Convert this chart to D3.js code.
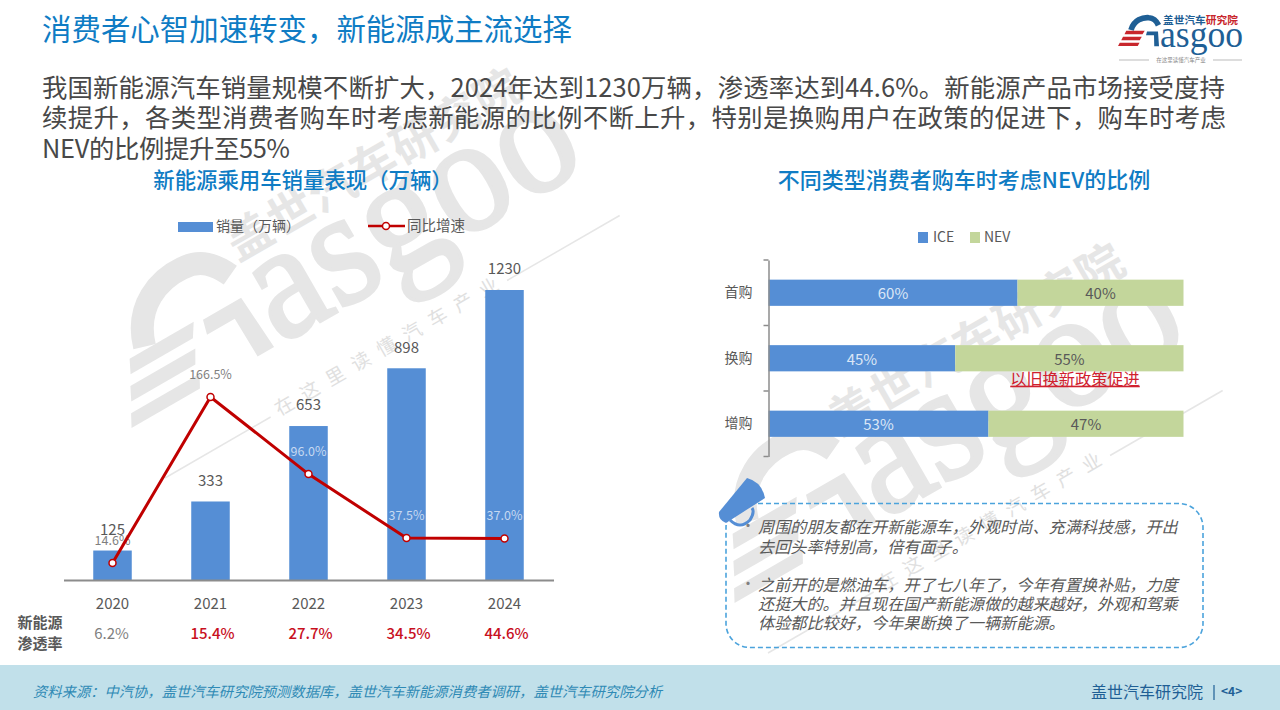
<!DOCTYPE html>
<html>
<head>
<meta charset="utf-8">
<script src="https://d3js.org/d3.v7.min.js"></script>
<style>
  html, body { margin: 0; padding: 0; background: #fff; }
  svg { display: block; }
  text { font-family: "Noto Sans CJK SC", "Noto Sans", sans-serif; }
</style>
</head>
<body>
<div id="chart"></div>
<script>
// left chart
const years = ["2020", "2021", "2022", "2023", "2024"];
const sales = [125, 333, 653, 898, 1230];
const growth = [14.6, 166.5, 96.0, 37.5, 37.0];
const penetration = ["6.2%", "15.4%", "27.7%", "34.5%", "44.6%"];

// right chart
const buyerTypes = ["首购", "换购", "增购"];
const iceShare = [60, 45, 53];
const nevShare = [40, 55, 47];

// text
const pageTitle = "消费者心智加速转变，新能源成主流选择";
const bodyLines = [
  "我国新能源汽车销量规模不断扩大，2024年达到1230万辆，渗透率达到44.6%。新能源产品市场接受度持",
  "续提升，各类型消费者购车时考虑新能源的比例不断上升，特别是换购用户在政策的促进下，购车时考虑",
  "NEV的比例提升至55%"
];
const bodyWidths = [1183, 1184, 248];
const quoteLines = [
  {t: "周围的朋友都在开新能源车，外观时尚、充满科技感，开出", y: 527, bullet: true},
  {t: "去回头率特别高，倍有面子。", y: 547},
  {t: "之前开的是燃油车，开了七八年了，今年有置换补贴，力度", y: 585, bullet: true},
  {t: "还挺大的。并且现在国产新能源做的越来越好，外观和驾乘", y: 604},
  {t: "体验都比较好，今年果断换了一辆新能源。", y: 623}
];

const BLUE = "#558ed5", GREEN = "#c3d69b", RED = "#c00000", GREY = "#595959", TITLE = "#0f7cc4";

const svg = d3.select("#chart").append("svg").attr("width", 1280).attr("height", 710);

function label(g, x, y, str, size, color, anchor) {
  return g.append("text").attr("x", x).attr("y", y).attr("dy", "0.35em")
    .attr("font-size", size).attr("fill", color).attr("text-anchor", anchor || "middle").text(str);
}

// G emblem, shared by the watermark and the logo
function emblem(g, color, stripes) {
  g.append("path").attr("d", "M48,-124 C60,-165 95,-175 120,-173 C140,-172 150,-160 158,-143")
    .attr("fill", "none").attr("stroke", color).attr("stroke-width", 23);
  g.append("path").attr("d", "M112,-118 L156,-118 L160,-59 L141,-59 L140,-103 L108,-103 Z").attr("fill", color);
  const bars = ["M29,-121 L103,-121 L94,-107 L22,-107 Z", "M16,-97 L91,-97 L83,-83 L9,-83 Z", "M3,-73 L82,-73 L75,-60 L-4,-60 Z"];
  bars.forEach(d => g.append("path").attr("d", d).attr("fill", stripes));
}

function watermark(x, y) {
  const c = "#e6e6e6";
  const g = svg.append("g").attr("transform", `translate(${x},${y}) rotate(-30)`);
  emblem(g, c, c);
  g.append("text").attr("x", 166).attr("y", -58).attr("font-size", 165)
    .attr("textLength", 358).attr("lengthAdjust", "spacingAndGlyphs")
    .style("font-family", "'Liberation Serif'").attr("fill", c)
    .attr("stroke", c).attr("stroke-width", 3.5).text("asgoo");
  g.append("text").attr("x", 171).attr("y", -167).attr("dy", "0.35em").attr("font-size", 46).attr("font-weight", 700)
    .attr("letter-spacing", 1.7).attr("fill", c).text("盖世汽车研究院");
  g.append("text").attr("x", 130).attr("y", -3).attr("dy", "0.35em").attr("font-size", 19)
    .attr("letter-spacing", 10.5).attr("fill", "#e0e0e0").text("在这里读懂汽车产业");
  g.append("line").attr("x1", 0).attr("x2", 122).attr("stroke", c).attr("stroke-width", 1.5);
  g.append("line").attr("x1", 395).attr("x2", 525).attr("stroke", c).attr("stroke-width", 1.5);
}
watermark(165, 478);
watermark(768, 653);

// header
label(svg, 42, 30, pageTitle, 29.45, TITLE, "start");
bodyLines.forEach((l, i) => label(svg, 42, 88 + i * 30.5, l, 25.4, "#484848", "start")
  .attr("textLength", bodyWidths[i]));

// logo
emblem(svg.append("g").attr("transform", "translate(1119,61) scale(0.25)"), "#1f5f95", "#c8262c");
svg.append("text").attr("x", 1163).attr("y", 24).attr("font-size", 10.7).attr("font-weight", 700)
  .attr("fill", "#1f5f95").text("盖世汽车").append("tspan").attr("fill", "#c8262c").text("研究院");
svg.append("text").attr("x", 1160).attr("y", 47).attr("font-size", 38)
  .attr("textLength", 83).attr("lengthAdjust", "spacingAndGlyphs")
  .style("font-family", "'Liberation Serif'").attr("fill", "#1f5f95").text("asgoo");
svg.append("line").attr("x1", 1119).attr("x2", 1149).attr("y1", 60).attr("y2", 60).attr("stroke", "#bbb");
svg.append("line").attr("x1", 1213).attr("x2", 1242).attr("y1", 60).attr("y2", 60).attr("stroke", "#bbb");
label(svg, 1181, 60, "在这里读懂汽车产业", 5.5, "#888");

// ---- left chart ----
label(svg, 303, 181, "新能源乘用车销量表现（万辆）", 21.4, TITLE).attr("font-weight", 500);

const x = d3.scaleBand().domain(years).range([63.5, 553.5]).paddingInner(0.607).paddingOuter(0.3035);
const ySales = d3.scaleLinear().domain([0, 1230]).range([580, 290]);
const yGrowth = d3.scaleLinear().domain([0, 166.5]).range([579, 397]);

svg.append("g").selectAll("rect").data(years).join("rect")
  .attr("x", d => x(d)).attr("width", x.bandwidth())
  .attr("y", (d, i) => ySales(sales[i])).attr("height", (d, i) => ySales(0) - ySales(sales[i]))
  .attr("fill", BLUE);

const xAxis = svg.append("g").attr("transform", "translate(0,580)")
  .call(d3.axisBottom(x).tickSize(0).tickPadding(16));
xAxis.select(".domain").attr("stroke", "#8c8c8c").attr("stroke-width", 2);
xAxis.selectAll("text").attr("font-size", 15).attr("fill", GREY).style("font-family", "'Noto Sans CJK SC'").attr("y", 18);

years.forEach((d, i) => {
  const cx = x(d) + x.bandwidth() / 2;
  label(svg, cx, ySales(sales[i]) - 21, sales[i], 15, GREY);
  // growth labels sit above the marker, light when they land on a bar
  const onBar = i >= 2;
  label(svg, cx, yGrowth(growth[i]) - 22.5, growth[i].toFixed(1) + "%", 12.5, onBar ? "#c6d9f1" : "#7f7f7f");
  label(svg, cx + (i ? 2 : -1), 634, penetration[i], 15, i ? "#c8101e" : "#7f7f7f").attr("font-weight", i ? 500 : 400);
});

const growthLine = d3.line().x((d, i) => x(years[i]) + x.bandwidth() / 2).y(d => yGrowth(d));
svg.append("path").datum(growth).attr("fill", "none").attr("stroke", RED).attr("stroke-width", 3).attr("d", growthLine);
svg.append("g").selectAll("circle").data(growth).join("circle")
  .attr("cx", (d, i) => x(years[i]) + x.bandwidth() / 2).attr("cy", d => yGrowth(d))
  .attr("r", 3.5).attr("fill", "#fff").attr("stroke", RED).attr("stroke-width", 1.5);

label(svg, 40, 623, "新能源", 15, GREY).attr("font-weight", 700);
label(svg, 40, 644, "渗透率", 15, GREY).attr("font-weight", 700);

// left legend
svg.append("rect").attr("x", 178).attr("y", 222).attr("width", 35).attr("height", 10).attr("fill", BLUE);
label(svg, 216, 226, "销量（万辆）", 14, GREY, "start");
svg.append("line").attr("x1", 368).attr("x2", 405).attr("y1", 226).attr("y2", 226).attr("stroke", RED).attr("stroke-width", 2.5);
svg.append("circle").attr("cx", 386).attr("cy", 226).attr("r", 3.5).attr("fill", "#fff").attr("stroke", RED).attr("stroke-width", 1.5);
label(svg, 407, 226, "同比增速", 14.5, GREY, "start");

// ---- right chart ----
label(svg, 964, 180, "不同类型消费者购车时考虑NEV的比例", 22, TITLE).attr("font-weight", 500);

const xShare = d3.scaleLinear().domain([0, 100]).range([768.5, 1183.5]);
const yType = d3.scaleBand().domain(buyerTypes).range([260, 456.5]).paddingInner(0.6).paddingOuter(0.3);

svg.append("g").selectAll("rect").data(buyerTypes).join("rect")
  .attr("x", xShare(0)).attr("y", d => yType(d)).attr("height", yType.bandwidth())
  .attr("width", (d, i) => xShare(iceShare[i]) - xShare(0)).attr("fill", BLUE);
svg.append("g").selectAll("rect").data(buyerTypes).join("rect")
  .attr("x", (d, i) => xShare(iceShare[i])).attr("y", d => yType(d)).attr("height", yType.bandwidth())
  .attr("width", (d, i) => xShare(iceShare[i] + nevShare[i]) - xShare(iceShare[i])).attr("fill", GREEN);

const yAxis = svg.append("g").attr("transform", "translate(768.5,0)")
  .call(d3.axisLeft(yType).tickSize(0).tickPadding(16));
yAxis.select(".domain").attr("stroke", "#8c8c8c").attr("stroke-width", 1.5);
yAxis.selectAll("text").attr("font-size", 14).attr("fill", GREY).style("font-family", "'Noto Sans CJK SC'");
// ticks fall between the bands
svg.append("g").selectAll("line").data(d3.range(buyerTypes.length + 1)).join("line")
  .attr("x1", 763.5).attr("x2", 768.5)
  .attr("y1", i => yType.range()[0] + i * yType.step()).attr("y2", i => yType.range()[0] + i * yType.step())
  .attr("stroke", "#8c8c8c").attr("stroke-width", 1.5);

buyerTypes.forEach((d, i) => {
  const cy = yType(d) + yType.bandwidth() / 2 + 1;
  label(svg, xShare(iceShare[i] / 2), cy, iceShare[i] + "%", 15, "#dbe6f6");
  label(svg, xShare(iceShare[i] + nevShare[i] / 2), cy, nevShare[i] + "%", 15, "#595959");
});

label(svg, 1075, 379, "以旧换新政策促进", 16.2, "#d0202e").attr("text-decoration", "underline");

// right legend
svg.append("rect").attr("x", 918).attr("y", 232).attr("width", 10).attr("height", 11).attr("fill", BLUE);
label(svg, 933, 237, "ICE", 14, GREY, "start");
svg.append("rect").attr("x", 970).attr("y", 232).attr("width", 10).attr("height", 11).attr("fill", GREEN);
label(svg, 984, 237, "NEV", 14, GREY, "start");

// quote box
svg.append("rect").attr("x", 726).attr("y", 503.5).attr("width", 477).attr("height", 144).attr("rx", 24)
  .attr("fill", "none").attr("stroke", "#4ba3dc").attr("stroke-width", 1.6).attr("stroke-dasharray", "5 3");

// megaphone
svg.append("path").attr("d", "M719,512 L747,478 Q762,482 765,498 L726,523 Q718,520 719,512 Z").attr("fill", BLUE);
svg.append("path").attr("d", "M730,520 Q740,530 750,520 Q755,512 752,508")
  .attr("fill", "none").attr("stroke", BLUE).attr("stroke-width", 3);

quoteLines.forEach(l => {
  label(svg, 758, l.y, l.t, 16.15, "#595959", "start").style("font-style", "italic");
  if (l.bullet) label(svg, 748, l.y - 1, "•", 15, "#7f7f7f");
});

// footer
svg.append("rect").attr("y", 665).attr("width", 1280).attr("height", 45).attr("fill", "#c1e0ea");
label(svg, 33, 692, "资料来源：中汽协，盖世汽车研究院预测数据库，盖世汽车新能源消费者调研，盖世汽车研究院分析", 14.3, "#2f8ab5", "start").style("font-style", "italic");
label(svg, 1091, 692, "盖世汽车研究院", 16, "#1f5f95", "start");
svg.append("line").attr("x1", 1214).attr("x2", 1214).attr("y1", 685).attr("y2", 700).attr("stroke", "#1f5f95").attr("stroke-width", 1.2);
label(svg, 1221, 692, "<4>", 12, "#1f5f95", "start").attr("font-weight", 700);
</script>
</body>
</html>
